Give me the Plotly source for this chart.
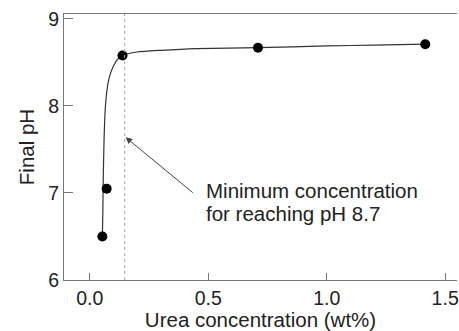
import plotly.graph_objects as go

# measured data points
urea_pts = [0.053, 0.071, 0.138, 0.71, 1.416]
ph_pts = [6.50, 7.05, 8.58, 8.67, 8.71]

# fitted curve
curve_x = [0.053, 0.055, 0.056, 0.058, 0.060, 0.063, 0.066, 0.071, 0.078, 0.088, 0.100, 0.115, 0.138, 0.20, 0.30, 0.45, 0.71, 1.00, 1.20, 1.416]
curve_y = [6.50, 6.80, 7.05, 7.35, 7.60, 7.85, 8.00, 8.15, 8.28, 8.38, 8.46, 8.53, 8.58, 8.62, 8.64, 8.66, 8.67, 8.69, 8.70, 8.71]

min_conc = 0.147
x_ticks = [0.0, 0.5, 1.0, 1.5]
x_tick_labels = ["0.0", "0.5", "1.0", "1.5"]
y_ticks = [6, 7, 8, 9]
y_tick_labels = ["6", "7", "8", "9"]

FONT = "Liberation Sans, Arial, Helvetica, sans-serif"
AX = "#777777"
TXT = "#222222"

fig = go.Figure()
fig.add_trace(go.Scatter(x=curve_x, y=curve_y, mode="lines",
                         line=dict(color="#333333", width=1.2, shape="spline", smoothing=0.6),
                         hoverinfo="skip", showlegend=False))
fig.add_trace(go.Scatter(x=urea_pts, y=ph_pts, mode="markers",
                         marker=dict(color="black", size=10), showlegend=False))

fig.add_shape(type="line", xref="x", yref="paper", x0=min_conc, x1=min_conc, y0=0, y1=1,
              line=dict(color="#aaaaaa", width=1, dash="dot"))

fig.add_annotation(x=0.151, y=7.64, ax=0.441, ay=6.99, xref="x", yref="y", axref="x", ayref="y",
                   text="", showarrow=True, arrowhead=2, arrowsize=1.3, arrowwidth=1, arrowcolor="#444444")
fig.add_annotation(x=0.483, y=7.03, xref="x", yref="y", text="Minimum concentration",
                   showarrow=False, xanchor="left", yanchor="middle",
                   font=dict(family=FONT, size=20.5, color=TXT))
fig.add_annotation(x=0.483, y=6.77, xref="x", yref="y", text="for reaching pH 8.7",
                   showarrow=False, xanchor="left", yanchor="middle",
                   font=dict(family=FONT, size=20.5, color=TXT))

fig.update_layout(
    width=459, height=331,
    margin=dict(l=64, r=0, t=14, b=51),
    paper_bgcolor="white", plot_bgcolor="white",
    font=dict(family=FONT, size=19.5, color=TXT),
    xaxis=dict(range=[-0.109, 1.55], tickvals=x_ticks, ticktext=x_tick_labels,
               tickfont=dict(family=FONT, size=19.5, color=TXT), ticklabeloverflow="allow",
               showgrid=False, zeroline=False, showline=True, linecolor=AX, linewidth=1.2,
               mirror=True, ticks="inside", ticklen=7, tickcolor=AX, tickwidth=1,
               title=dict(text="Urea concentration (wt%)", standoff=8,
                          font=dict(family=FONT, size=20.5, color=TXT))),
    yaxis=dict(range=[6, 9.057], tickvals=y_ticks, ticktext=y_tick_labels,
               tickfont=dict(family=FONT, size=19.5, color=TXT),
               showgrid=False, zeroline=False, showline=True, linecolor=AX, linewidth=1.2,
               ticks="inside", ticklen=9, tickcolor=AX, tickwidth=1,
               title=dict(text="Final pH", standoff=7,
                          font=dict(family=FONT, size=20.5, color=TXT))),
)

fig.write_html("out.html")
